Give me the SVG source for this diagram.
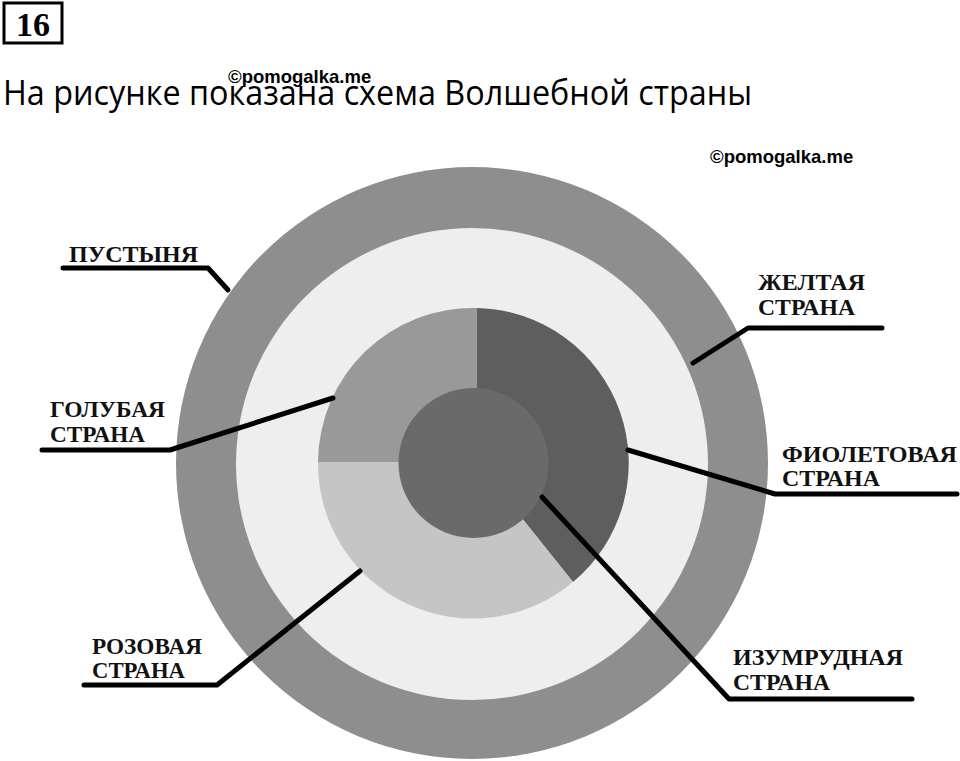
<svg xmlns="http://www.w3.org/2000/svg" width="960" height="761" viewBox="0 0 960 761">
<style>
.lbl{font-family:"Liberation Serif","Times New Roman",serif;font-weight:bold;font-size:24px;fill:#111}
.wm{font-family:"Liberation Sans",Arial,sans-serif;font-weight:bold;font-size:18.5px;fill:#000}
.ld{fill:none;stroke:#000;stroke-width:5;stroke-linecap:round;stroke-linejoin:round}
</style>
<rect width="960" height="761" fill="#fff"/>
<g id="header">
<rect x="4" y="3" width="58" height="40" fill="none" stroke="#000" stroke-width="3"/>
<text x="33" y="36" text-anchor="middle" font-family="Liberation Serif,serif" font-weight="bold" font-size="34">16</text>
<text x="3" y="105" font-family="Open Sans,Noto Sans,sans-serif" font-size="35" textLength="749" lengthAdjust="spacingAndGlyphs">На рисунке показана схема Волшебной страны</text>
<text class="wm" x="228" y="83">©pomogalka.me</text>
<text class="wm" x="710" y="163">©pomogalka.me</text>
</g>
<g id="desert"><circle cx="472" cy="463" r="296" fill="#8e8e8e"/></g>
<g id="ring"><circle cx="472" cy="464" r="236" fill="#eeeeee"/></g>
<g id="blue"><path d="M477,462 L318,462 A155,155 0 0 1 477,308 Z" fill="#999999"/></g>
<g id="violet"><path d="M477,462 L477,308 A155,155 0 0 1 573,582 Z" fill="#5e5e5e"/></g>
<g id="pink"><path d="M477,462 L573,582 A155,155 0 0 1 318,462 Z" fill="#c5c5c5"/></g>
<g id="emerald"><circle cx="473.5" cy="463" r="75" fill="#6a6a6a"/></g>
<g id="connectors">
<polyline class="ld" points="63,268 208,268 228,290"/>
<polyline class="ld" points="42,450 170,450 333,398"/>
<polyline class="ld" points="882,328 748,328 693,363"/>
<polyline class="ld" points="628,450 775,494 957,494"/>
<polyline class="ld" points="360,571 217,685 84,685"/>
<polyline class="ld" points="542,497 729,699 912,699"/>
</g>
<g id="labels">
<text class="lbl" x="69" y="262" textLength="129" lengthAdjust="spacingAndGlyphs">ПУСТЫНЯ</text>
<text class="lbl" x="50" y="417" textLength="115" lengthAdjust="spacingAndGlyphs">ГОЛУБАЯ</text>
<text class="lbl" x="50" y="442" textLength="95" lengthAdjust="spacingAndGlyphs">СТРАНА</text>
<text class="lbl" x="758" y="290" textLength="107" lengthAdjust="spacingAndGlyphs">ЖЕЛТАЯ</text>
<text class="lbl" x="758" y="315" textLength="97" lengthAdjust="spacingAndGlyphs">СТРАНА</text>
<text class="lbl" x="782" y="462" textLength="175" lengthAdjust="spacingAndGlyphs">ФИОЛЕТОВАЯ</text>
<text class="lbl" x="782" y="486" textLength="98" lengthAdjust="spacingAndGlyphs">СТРАНА</text>
<text class="lbl" x="92" y="654" textLength="110" lengthAdjust="spacingAndGlyphs">РОЗОВАЯ</text>
<text class="lbl" x="92" y="678" textLength="93" lengthAdjust="spacingAndGlyphs">СТРАНА</text>
<text class="lbl" x="733" y="665" textLength="170" lengthAdjust="spacingAndGlyphs">ИЗУМРУДНАЯ</text>
<text class="lbl" x="733" y="690" textLength="97" lengthAdjust="spacingAndGlyphs">СТРАНА</text>
</g>
</svg>
